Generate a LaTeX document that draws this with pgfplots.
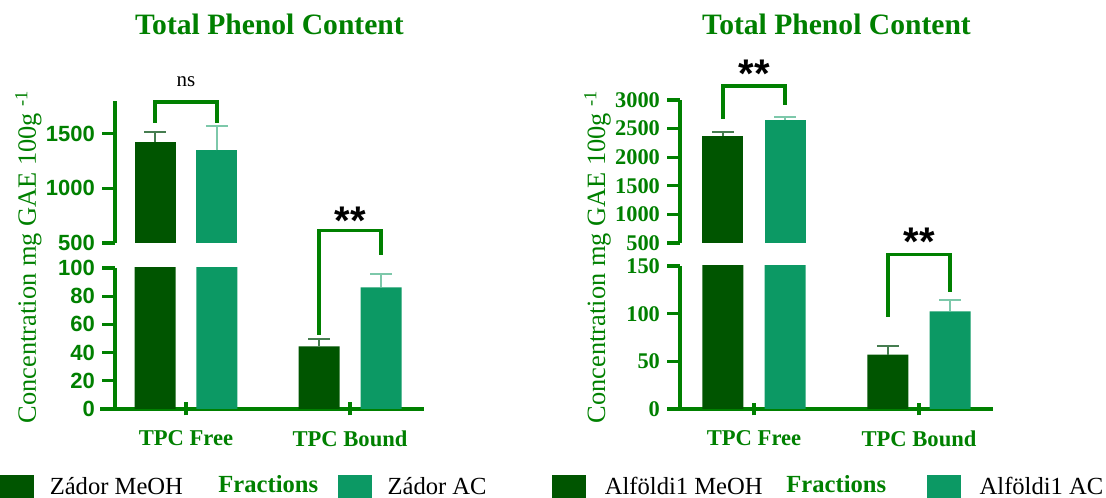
\documentclass[border=0pt]{standalone}
\usepackage{fontspec}
\setmainfont{Liberation Serif}
\newfontfamily\arialfont{Liberation Sans}
\usepackage{pgfplots}
\usepackage{pgfplotstable}
\pgfplotsset{compat=1.18}

\definecolor{pgreen}{RGB}{0,128,0}
\definecolor{meoh}{RGB}{0,85,0}
\definecolor{acc}{RGB}{12,153,100}
\definecolor{meoherr}{RGB}{70,125,80}
\definecolor{accerr}{RGB}{125,200,170}

% Zador extracts: free and bound phenols, mean and SD
\pgfplotstableread{
x y err
0 1422 98
1 44.4 5.2
}\zadorMeOH
\pgfplotstableread{
x y err
0 1347 220
1 86.2 9.8
}\zadorAC
% Alfoldi1 extracts
\pgfplotstableread{
x y err
0 2371 70
1 57.0 8.7
}\alfMeOH
\pgfplotstableread{
x y err
0 2650 58
1 102.4 12.3
}\alfAC

\pgfplotsset{
  brokenpart/.style={
    scale only axis,
    clip mode=individual,
    axis y line=left,
    axis line style={-, line width=1.6pt, color=pgreen},
    y axis line style={-},
    tick align=outside,
    major tick length=6.5pt,
    tick style={line width=1.6pt, color=pgreen},
    minor tick num=0,
    scaled y ticks=false,
    /pgf/number format/1000 sep={},
    /pgf/number format/assume math mode=true,
    yticklabel style={color=pgreen},
  },
  lowerpart/.style={
    brokenpart,
    axis x line=bottom,
    xtick={0,1},
    xticklabels={TPC Free, TPC Bound},
    xticklabel style={font=\bfseries\fontsize{11.3}{13}\selectfont, color=pgreen, yshift=-4pt},
    ylabel={Concentration mg GAE 100g \textsuperscript{-1}},
    xlabel={Fractions},
    legend columns=2,
  },
  % upper segment of the broken axis: bars that end below it are left out
  upperpart/.style={
    brokenpart,
    axis x line=none,
    xtick=\empty,
    every axis plot/.append style={restrict y to domain=500:100000},
    title={Total Phenol Content},
    title style={at={(axis description cs:0.5,1)}, anchor=base,
      font=\bfseries\fontsize{14.8}{17}\selectfont, color=pgreen, inner sep=0pt},
  },
  groupbar/.style={ybar, forget plot, bar width=20.5pt, bar shift=0pt, draw=none},
}

% #1 table, #2 offset of the bar from the group centre (axis units)
\newcommand{\meohplot}[2]{%
  \addplot[groupbar, fill=meoh, error bars/.cd, y dir=plus, y explicit,
    error bar style={line width=1pt, meoherr},
    error mark options={rotate=90, mark size=5.5pt, line width=1pt, meoherr}]
    table[x expr=\thisrow{x}#2, y=y, y error=err] {#1};}
\newcommand{\acplot}[2]{%
  \addplot[groupbar, fill=acc, error bars/.cd, y dir=plus, y explicit,
    error bar style={line width=1pt, accerr},
    error mark options={rotate=90, mark size=5.5pt, line width=1pt, accerr}]
    table[x expr=\thisrow{x}#2, y=y, y error=err] {#1};}

\tikzset{
  sigline/.style={pgreen, line width=1.8pt, line join=miter},
  stars/.style={anchor=north, inner sep=0pt, font=\arialfont\bfseries\fontsize{20}{22}\selectfont},
}

\begin{document}
\begin{tikzpicture}
\useasboundingbox (0,0) rectangle (553pt,248.5pt);

% ---------------- Zador ----------------
\begin{axis}[lowerpart,
  at={(57.5pt,44pt)}, anchor=south west,
  width=154.5pt, height=70.5pt,
  xmin=-0.4329, xmax=1.4512, ymin=0, ymax=100,
  ytick={0,20,...,100},
  yticklabel style={font=\arialfont\bfseries\fontsize{11}{13}\selectfont},
  x axis line style={-, shorten <=-7.5pt},
  ylabel style={at={(axis description cs:-0.2557,1.0816)}, anchor=base,
    font=\fontsize{13.2}{15}\selectfont, color=pgreen, inner sep=0pt},
  xlabel style={at={(axis description cs:0.3333,-0.5957)}, anchor=base west,
    font=\bfseries\fontsize{12.3}{14}\selectfont, color=pgreen, inner sep=0pt},
  legend style={at={(axis description cs:-0.3722,-0.4681)}, anchor=north west,
    draw=none, fill=none, inner sep=0pt, outer sep=0pt,
    nodes={inner sep=0pt}, font=\fontsize{12.3}{14}\selectfont,
    column sep=0pt,
    /tikz/every odd column/.append style={column sep=8pt},
    /tikz/every even column/.append style={column sep=77.4pt}},
]
\meohplot{\zadorMeOH}{-0.189}
\acplot{\zadorAC}{+0.189}
\addlegendimage{legend image code/.code={\fill[meoh] (0pt,-5pt) rectangle (16.5pt,6pt);}}
\addlegendentry{Zádor MeOH}
\addlegendimage{legend image code/.code={\fill[acc] (0pt,-5pt) rectangle (16.5pt,6pt);}}
\addlegendentry{Zádor AC}
\draw[sigline] (axis cs:0.811,52.7) |- (axis cs:1.189,126.5) -- (axis cs:1.189,109.4);
\node[stars] at (axis cs:1,143.5) {**};
\end{axis}

\begin{axis}[upperpart,
  at={(57.5pt,127pt)}, anchor=south west,
  width=154.5pt, height=71pt,
  xmin=-0.4329, xmax=1.4512, ymin=500, ymax=1800,
  ytick={500,1000,1500},
  yticklabel style={font=\arialfont\bfseries\fontsize{11}{13}\selectfont},
  title style={yshift=27pt},
]
\meohplot{\zadorMeOH}{-0.189}
\acplot{\zadorAC}{+0.189}
\draw[sigline] (axis cs:-0.189,1599) |- (axis cs:0.189,1791) -- (axis cs:0.189,1599);
\node[anchor=base, inner sep=0pt, font=\fontsize{10.5}{12}\selectfont] at (axis cs:0,1937) {ns};
\end{axis}

% ---------------- Alfoldi1 ----------------
\begin{axis}[lowerpart,
  at={(340pt,44pt)}, anchor=south west,
  width=156.5pt, height=71.5pt,
  xmin=-0.4485, xmax=1.4485, ymin=0, ymax=150,
  ytick={0,50,100,150},
  yticklabel style={font=\bfseries\fontsize{11.2}{13}\selectfont},
  x axis line style={-, shorten <=-6pt},
  ylabel style={at={(axis description cs:-0.2396,1.0664)}, anchor=base,
    font=\fontsize{13.2}{15}\selectfont, color=pgreen, inner sep=0pt},
  xlabel style={at={(axis description cs:0.3387,-0.5874)}, anchor=base west,
    font=\bfseries\fontsize{12.3}{14}\selectfont, color=pgreen, inner sep=0pt},
  legend style={at={(axis description cs:-0.4089,-0.4615)}, anchor=north west,
    draw=none, fill=none, inner sep=0pt, outer sep=0pt,
    nodes={inner sep=0pt}, font=\fontsize{12.3}{14}\selectfont,
    column sep=0pt,
    /tikz/every odd column/.append style={column sep=9.5pt},
    /tikz/every even column/.append style={column sep=82.1pt}},
]
\meohplot{\alfMeOH}{-0.188}
\acplot{\alfAC}{+0.188}
\addlegendimage{legend image code/.code={\fill[meoh] (0pt,-5pt) rectangle (16.5pt,6pt);}}
\addlegendentry{Alföldi1 MeOH}
\addlegendimage{legend image code/.code={\fill[acc] (0pt,-5pt) rectangle (16.5pt,6pt);}}
\addlegendentry{Alföldi1 AC}
\draw[sigline] (axis cs:0.812,96.8) |- (axis cs:1.188,161.9) -- (axis cs:1.188,123.0);
\node[stars] at (axis cs:1,190.2) {**};
\end{axis}

\begin{axis}[upperpart,
  at={(340pt,127pt)}, anchor=south west,
  width=156.5pt, height=71.5pt,
  xmin=-0.4485, xmax=1.4485, ymin=500, ymax=3000,
  ytick={500,1000,...,3000},
  yticklabel style={font=\bfseries\fontsize{11.2}{13}\selectfont},
  title style={yshift=26.5pt},
]
\meohplot{\alfMeOH}{-0.188}
\acplot{\alfAC}{+0.188}
\draw[sigline] (axis cs:-0.188,2668) |- (axis cs:0.188,3245) -- (axis cs:0.188,2913);
\node[stars] at (axis cs:0,3699) {**};
\end{axis}
\end{tikzpicture}
\end{document}
